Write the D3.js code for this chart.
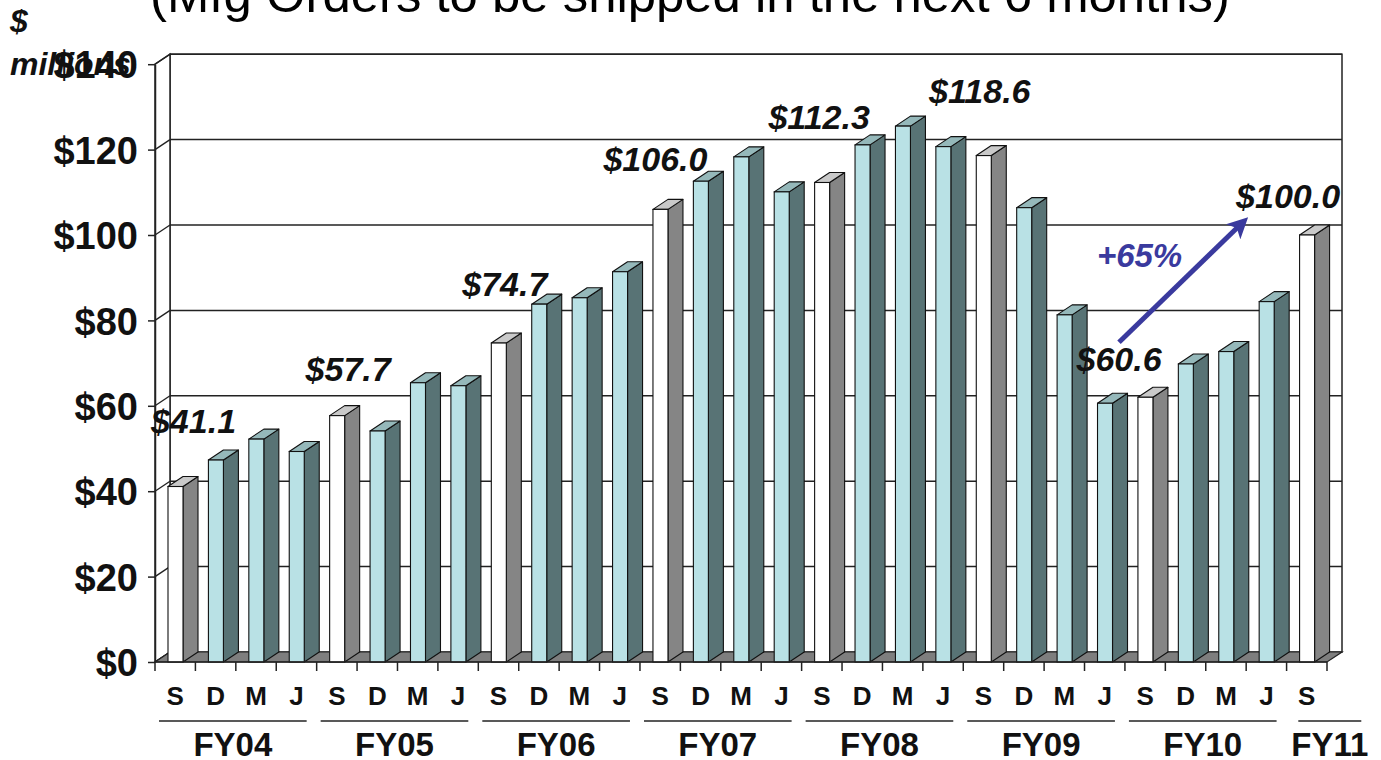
<!DOCTYPE html>
<html>
<head>
<meta charset="utf-8">
<script src="https://cdn.jsdelivr.net/npm/d3@7"></script>
<style>
  html, body { margin: 0; padding: 0; background: #ffffff; }
  svg { display: block; font-family: "Liberation Sans", Arial, sans-serif; }
</style>
</head>
<body>
<svg id="chart" width="1381" height="760"></svg>
<script>
// ---- data ----
const quarters = ["S","D","M","J","S","D","M","J","S","D","M","J","S","D","M","J",
                  "S","D","M","J","S","D","M","J","S","D","M","J","S"];
const fiscalYears = ["FY04","FY05","FY06","FY07","FY08","FY09","FY10","FY11"];
const yearOfBar = [0,0,0,0,1,1,1,1,2,2,2,2,3,3,3,3,4,4,4,4,5,5,5,5,6,6,6,6,7];
const values = [41.1, 47.3, 52.2, 49.3,
                57.7, 54.1, 65.4, 64.7,
                74.7, 83.8, 85.3, 91.4,
                106.0, 112.6, 118.3, 110.1,
                112.3, 121.1, 125.5, 120.7,
                118.6, 106.4, 81.3, 60.6,
                62.0, 69.8, 72.7, 84.4,
                100.0];
const yTicks = [0, 20, 40, 60, 80, 100, 120, 140];
const labelBars = [0, 4, 8, 12, 16, 20, 23, 28];
const labelTexts = ["$41.1", "$57.7", "$74.7", "$106.0", "$112.3", "$118.6", "$60.6", "$100.0"];
const growthText = "+65%";
const titleText = "(Mfg Orders to be shipped in the next 6 months)";

// ---- layout (not data) ----
const labelOffsets = [[18,-54],[11,-35],[6,-47],[-5,-38],[-3,-53],[-4,-53],[14,-32],[-19,-27]];
const DX = 15, DY = -10;

const svg = d3.select("#chart");
const y = d3.scaleLinear().domain([0, 140]).range([662, 64.2]);
const x = d3.scaleBand().domain(d3.range(values.length)).range([155, 1327]).padding(0);
const bw = x.bandwidth();
const x0 = 155, x1 = 1327, yb = y(0), yt = y(140);

// title (cut off at top)
const title = svg.append("text").attr("x", 690).attr("y", 12)
  .attr("text-anchor", "middle").attr("font-size", 44).attr("fill", "#000")
  .text(titleText);
const tw = title.node().getComputedTextLength();
title.attr("font-size", 44 * 1080 / tw);

// back wall
svg.append("rect").attr("x", x0 + DX).attr("y", yt + DY)
  .attr("width", x1 - x0).attr("height", yb - yt)
  .attr("fill", "#fff").attr("stroke", "#222").attr("stroke-width", 1.5);
// gridlines
svg.append("g").selectAll("line").data(yTicks.slice(1)).join("line")
  .attr("x1", x0 + DX).attr("x2", x1 + DX)
  .attr("y1", d => y(d) + DY).attr("y2", d => y(d) + DY)
  .attr("stroke", "#222").attr("stroke-width", 1.5);
// left wall
svg.append("path")
  .attr("d", `M${x0},${yb}L${x0+DX},${yb+DY}L${x0+DX},${yt+DY}L${x0},${yt}Z`)
  .attr("fill", "#fff").attr("stroke", "#222").attr("stroke-width", 1.5);
svg.append("g").selectAll("line").data(yTicks).join("line")
  .attr("x1", x0).attr("x2", x0 + DX)
  .attr("y1", d => y(d)).attr("y2", d => y(d) + DY)
  .attr("stroke", "#222").attr("stroke-width", 1.3);
// floor
svg.append("path")
  .attr("d", `M${x0},${yb}L${x1},${yb}L${x1+DX},${yb+DY}L${x0+DX},${yb+DY}Z`)
  .attr("fill", "#7e7e7e").attr("stroke", "#222").attr("stroke-width", 1.2);

// bars
const FW = 15, OFF = 13;
const colors = q => q === "S"
  ? { front: "#ffffff", side: "#858585", top: "#c9c9c9" }
  : { front: "#b9e1e5", side: "#587375", top: "#95b8ba" };
const bars = svg.append("g").selectAll("g").data(values).join("g");
bars.each(function(v, i) {
  const g = d3.select(this);
  const c = colors(quarters[i]);
  const bx = x(i) + OFF, top = y(v);
  g.append("path")
    .attr("d", `M${bx+FW},${yb}L${bx+FW+DX},${yb+DY}L${bx+FW+DX},${top+DY}L${bx+FW},${top}Z`)
    .attr("fill", c.side).attr("stroke", "#111").attr("stroke-width", 1.1).attr("stroke-linejoin", "round");
  g.append("path")
    .attr("d", `M${bx},${top}L${bx+DX},${top+DY}L${bx+FW+DX},${top+DY}L${bx+FW},${top}Z`)
    .attr("fill", c.top).attr("stroke", "#111").attr("stroke-width", 1.1).attr("stroke-linejoin", "round");
  g.append("rect").attr("x", bx).attr("y", top).attr("width", FW).attr("height", yb - top)
    .attr("fill", c.front).attr("stroke", "#111").attr("stroke-width", 1.1);
});

// y axis
const yAxis = svg.append("g").attr("transform", `translate(${x0},0)`)
  .call(d3.axisLeft(y).tickValues(yTicks).tickFormat(d => "$" + d)
    .tickSize(7).tickSizeOuter(0).tickPadding(10));
yAxis.select(".domain").attr("stroke", "#222").attr("stroke-width", 1.5);
yAxis.selectAll(".tick line").attr("stroke", "#222").attr("stroke-width", 1.5);
yAxis.selectAll(".tick text").attr("font-size", 38).attr("font-weight", "bold")
  .attr("font-family", "Liberation Sans, Arial, sans-serif").attr("fill", "#111").attr("dy", "0.36em");

// x axis line + ticks at band boundaries
svg.append("line").attr("x1", x0).attr("x2", x1).attr("y1", yb).attr("y2", yb)
  .attr("stroke", "#222").attr("stroke-width", 1.5);
svg.append("g").selectAll("line").data(d3.range(values.length + 1)).join("line")
  .attr("x1", i => x0 + i * bw).attr("x2", i => x0 + i * bw)
  .attr("y1", yb).attr("y2", yb + 9)
  .attr("stroke", "#222").attr("stroke-width", 1.5);
const xAxis = svg.append("g").attr("transform", `translate(0,${yb})`)
  .call(d3.axisBottom(x).tickSize(0).tickPadding(43).tickFormat(i => quarters[i]));
xAxis.select(".domain").remove();
xAxis.selectAll(".tick text").attr("font-size", 26).attr("font-weight", "bold")
  .attr("font-family", "Liberation Sans, Arial, sans-serif").attr("fill", "#111").attr("dy", 0);

// fiscal year group labels
const groups = fiscalYears.map((fy, k) => {
  const idx = d3.range(values.length).filter(i => yearOfBar[i] === k);
  const start = x(idx[0]), end = x(idx[idx.length - 1]) + bw;
  const single = idx.length === 1;
  const cx = single ? (start + end) / 2 + 23 : (start + end) / 2 - 3;
  const w = single ? 63 : (end - start) - 14;
  return { fy, cx, w };
});
const gl = svg.append("g").selectAll("g").data(groups).join("g");
gl.append("line").attr("x1", d => d.cx - d.w / 2).attr("x2", d => d.cx + d.w / 2)
  .attr("y1", 721).attr("y2", 721).attr("stroke", "#222").attr("stroke-width", 1.5);
gl.append("text").attr("x", d => d.cx).attr("y", 756).attr("text-anchor", "middle")
  .attr("font-size", 33).attr("font-weight", "bold").attr("fill", "#111").text(d => d.fy);

// y axis unit label
const unit = svg.append("text").attr("font-size", 32).attr("font-weight", "bold")
  .attr("font-style", "italic").attr("fill", "#111");
unit.append("tspan").attr("x", 10).attr("y", 32).text("$");
unit.append("tspan").attr("x", 10).attr("y", 75).text("millions");

// value labels
svg.append("g").selectAll("text").data(labelBars).join("text")
  .attr("x", (b, k) => x(b) + OFF + FW / 2 + labelOffsets[k][0])
  .attr("y", (b, k) => y(values[b]) + labelOffsets[k][1])
  .attr("text-anchor", "middle").attr("font-size", 34).attr("font-weight", "bold")
  .attr("font-style", "italic").attr("fill", "#111")
  .text((b, k) => labelTexts[k]);

// growth arrow
const blue = "#3a3a9e";
const lowB = labelBars[6], highB = labelBars[7];
const ax1 = x(lowB) + OFF + FW / 2 + labelOffsets[6][0], ay1 = y(values[lowB]) - 61;
const ax2 = x(highB) + OFF + FW / 2 - 59, ay2 = y(values[highB]) - 18;
const defs = svg.append("defs");
defs.append("marker").attr("id", "ah").attr("viewBox", "0 0 10 10")
  .attr("refX", 6).attr("refY", 5).attr("markerWidth", 4.2).attr("markerHeight", 4.2)
  .attr("orient", "auto")
  .append("path").attr("d", "M0,0L10,5L0,10L2.5,5Z").attr("fill", blue);
svg.append("line").attr("x1", ax1).attr("y1", ay1).attr("x2", ax2 - 6).attr("y2", ay2 + 6)
  .attr("stroke", blue).attr("stroke-width", 5).attr("marker-end", "url(#ah)");
svg.append("text").attr("x", (ax1 + ax2) / 2 - 44).attr("y", (ay1 + ay2) / 2 - 13)
  .attr("text-anchor", "middle").attr("font-size", 33).attr("font-weight", "bold")
  .attr("font-style", "italic").attr("fill", blue).text(growthText);
</script>
</body>
</html>
